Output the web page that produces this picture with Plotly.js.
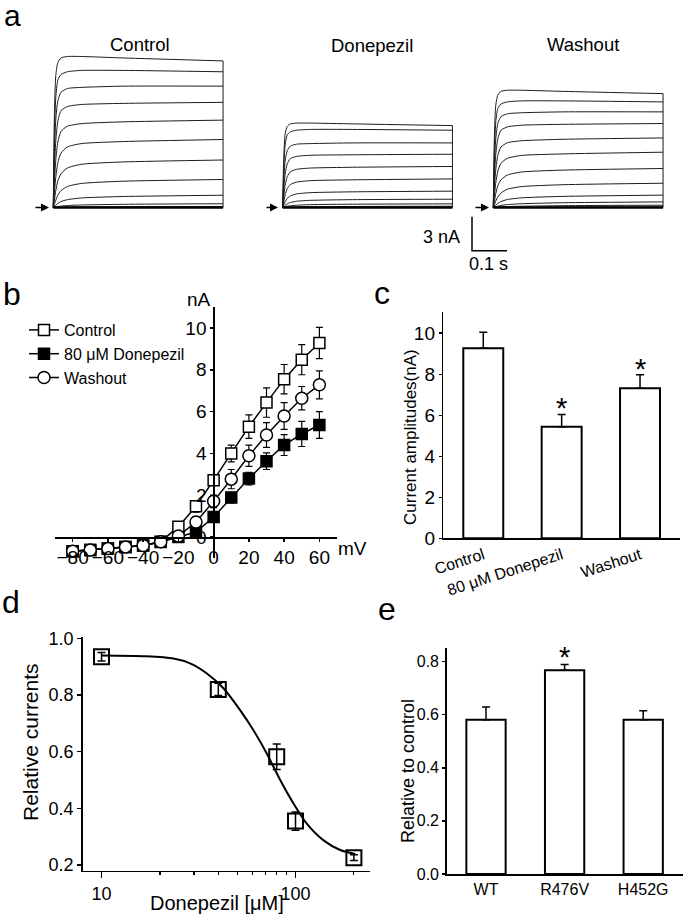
<!DOCTYPE html>
<html>
<head>
<meta charset="utf-8">
<script src="https://cdn.plot.ly/plotly-3.0.1.min.js"></script>
<style>html,body{margin:0;padding:0;background:#fff;}#chart{width:685px;height:917px;}</style>
</head>
<body>
<div id="chart"></div>
<script>
// ---------- Panel a: current traces (time in s, current in nA) ----------
const traceTime = [0, 0.003, 0.007, 0.013, 0.022, 0.04, 0.08, 0.2, 0.485];
const controlSweeps = [
  [0, 7.92, 11.62, 12.8, 13.2, 13.33, 13.33, 13.2, 12.94],
  [0, 6.05, 9.68, 11.25, 11.74, 11.98, 12.1, 12.1, 11.98],
  [0, 4.5, 7.71, 9.42, 10.17, 10.5, 10.6, 10.71, 10.71],
  [0, 3.16, 5.85, 7.61, 8.54, 8.91, 9.09, 9.19, 9.28],
  [0, 2.08, 4.16, 5.78, 6.71, 7.17, 7.4, 7.56, 7.71],
  [0, 1.2, 2.64, 3.96, 4.8, 5.34, 5.64, 5.82, 6.0],
  [0, 0.63, 1.47, 2.35, 2.97, 3.48, 3.81, 4.02, 4.19],
  [0, 0.25, 0.64, 1.09, 1.48, 1.85, 2.12, 2.32, 2.47],
  [0, 0.08, 0.19, 0.36, 0.52, 0.69, 0.84, 0.97, 1.08],
  [0, 0.02, 0.04, 0.08, 0.12, 0.17, 0.22, 0.28, 0.33],
  [0, 0, 0.01, 0.01, 0.02, 0.04, 0.05, 0.07, 0.09]
];
const donepezilSweeps = [
  [0, 4.43, 6.49, 7.16, 7.38, 7.45, 7.45, 7.38, 7.23],
  [0, 3.45, 5.51, 6.41, 6.68, 6.82, 6.89, 6.89, 6.82],
  [0, 2.39, 4.1, 5.02, 5.42, 5.59, 5.64, 5.7, 5.7],
  [0, 1.6, 2.96, 3.85, 4.32, 4.51, 4.61, 4.65, 4.7],
  [0, 0.98, 1.95, 2.72, 3.15, 3.37, 3.48, 3.55, 3.62],
  [0, 0.5, 1.11, 1.66, 2.02, 2.24, 2.37, 2.44, 2.52],
  [0, 0.22, 0.5, 0.81, 1.02, 1.2, 1.31, 1.38, 1.44],
  [0, 0.07, 0.19, 0.32, 0.44, 0.55, 0.63, 0.69, 0.73],
  [0, 0.02, 0.06, 0.11, 0.15, 0.2, 0.25, 0.29, 0.32],
  [0, 0.01, 0.01, 0.03, 0.04, 0.06, 0.07, 0.09, 0.11]
];
const washoutSweeps = [
  [0, 6.15, 9.02, 9.94, 10.25, 10.35, 10.35, 10.25, 10.05],
  [0, 4.71, 7.53, 8.75, 9.13, 9.32, 9.41, 9.41, 9.32],
  [0, 3.54, 6.08, 7.43, 8.02, 8.27, 8.36, 8.44, 8.44],
  [0, 2.52, 4.67, 6.08, 6.82, 7.11, 7.26, 7.34, 7.41],
  [0, 1.66, 3.32, 4.61, 5.34, 5.71, 5.89, 6.02, 6.14],
  [0, 0.98, 2.15, 3.22, 3.9, 4.34, 4.59, 4.73, 4.88],
  [0, 0.52, 1.2, 1.93, 2.44, 2.86, 3.13, 3.3, 3.44],
  [0, 0.21, 0.56, 0.94, 1.28, 1.61, 1.84, 2.01, 2.14],
  [0, 0.08, 0.2, 0.36, 0.52, 0.7, 0.85, 0.98, 1.09],
  [0, 0.02, 0.06, 0.11, 0.18, 0.25, 0.33, 0.42, 0.49],
  [0, 0.01, 0.02, 0.03, 0.05, 0.08, 0.11, 0.16, 0.2],
  [0, 0, 0, 0.01, 0.01, 0.02, 0.02, 0.04, 0.05]
];
const traceTitles = ['Control', 'Donepezil', 'Washout'];
const scaleBarTime = [0, 0, 0.1];
const scaleBarCurrent = [3, 0, 0];
const scaleBarLabels = ['3 nA', '0.1 s'];

// ---------- Panel b: I-V curves ----------
const ivVoltage = [-80, -70, -60, -50, -40, -30, -20, -10, 0, 10, 20, 30, 40, 50, 60];
const ivControl = [-0.68, -0.62, -0.55, -0.47, -0.4, -0.22, 0.5, 1.47, 2.72, 4.0, 5.28, 6.43, 7.55, 8.48, 9.28];
const ivControlErr = [0.12, 0.12, 0.12, 0.12, 0.12, 0.15, 0.2, 0.28, 0.24, 0.4, 0.56, 0.7, 0.7, 0.72, 0.75];
const ivDonepezil = [-0.68, -0.62, -0.55, -0.47, -0.4, -0.24, 0.0, 0.24, 0.96, 1.89, 2.8, 3.63, 4.4, 4.93, 5.36];
const ivDonepezilErr = [0.1, 0.1, 0.1, 0.1, 0.1, 0.12, 0.15, 0.15, 0.2, 0.25, 0.3, 0.4, 0.5, 0.6, 0.64];
const ivWashout = [-0.68, -0.62, -0.55, -0.47, -0.4, -0.22, 0.05, 0.72, 1.71, 2.77, 3.89, 4.88, 5.79, 6.64, 7.28];
const ivWashoutErr = [0.12, 0.12, 0.12, 0.12, 0.12, 0.15, 0.2, 0.25, 0.3, 0.46, 0.51, 0.59, 0.64, 0.56, 0.67];
const ivSeriesNames = ['Control', '80 \u03bcM Donepezil', 'Washout'];
const ivXTicks = [-80, -60, -40, -20, 0, 20, 40, 60];
const ivYTicks = [0, 2, 4, 6, 8, 10];

// ---------- Panel c: current amplitudes ----------
const cCategories = ['Control', '80 \u03bcM Donepezil', 'Washout'];
const cValues = [9.27, 5.44, 7.32];
const cErr = [0.78, 0.6, 0.65];
const cSig = ['', '*', '*'];
const cYTicks = [0, 2, 4, 6, 8, 10];

// ---------- Panel d: concentration-response ----------
const dConc = [10, 40, 80, 100, 200];
const dRel = [0.935, 0.82, 0.582, 0.355, 0.226];
const dErr = [0.015, 0.022, 0.045, 0.032, 0.01];
const fitConc = [10, 17, 23.5, 28.6, 34.8, 42.5, 51.8, 60.7, 71.1, 83.4, 97.5, 114, 139, 170, 203];
const fitRel = [0.94, 0.937, 0.929, 0.912, 0.877, 0.824, 0.747, 0.676, 0.594, 0.5, 0.418, 0.347, 0.288, 0.253, 0.239];
const dXTicks = [10, 100];
const dMinorTicks = [20, 30, 40, 50, 60, 70, 80, 90, 200];
const dYTicks = [0.2, 0.4, 0.6, 0.8, 1.0];

// ---------- Panel e: mutants ----------
const eCategories = ['WT', 'R476V', 'H452G'];
const eValues = [0.581, 0.767, 0.581];
const eErr = [0.048, 0.022, 0.034];
const eSig = ['', '*', ''];
const eYTicks = [0, 0.2, 0.4, 0.6, 0.8];

const panelLetters = ['a', 'b', 'c', 'd', 'e'];

// ---------- helpers ----------
const W = 685, H = 917;
const px = x => x / W;
const py = y => 1 - y / H;
const FONT = 'Liberation Sans, Arial, Helvetica, sans-serif';
const BLACK = '#000';

const traces = [];
const annotations = [];

// Panel a
const sweepSets = [controlSweeps, donepezilSweeps, washoutSweeps];
const sweepAxes = ['x', 'x2', 'x3'];
sweepSets.forEach((set, k) => {
  set.forEach(sw => {
    traces.push({x: traceTime, y: sw, xaxis: sweepAxes[k], yaxis: 'y', mode: 'lines',
      line: {color: '#1c1c1c', width: 1, shape: 'spline', smoothing: 0.6},
      showlegend: false, hoverinfo: 'skip'});
  });
  const last = traceTime.length - 1;
  traces.push({x: [traceTime[last], traceTime[last]], y: [set[0][last], 0], xaxis: sweepAxes[k], yaxis: 'y',
    mode: 'lines', line: {color: '#1c1c1c', width: 1}, showlegend: false, hoverinfo: 'skip'});
  traces.push({x: [traceTime[0], traceTime[last]], y: [0, 0], xaxis: sweepAxes[k], yaxis: 'y',
    mode: 'lines', line: {color: BLACK, width: 2.5}, showlegend: false, hoverinfo: 'skip'});
});
traces.push({x: scaleBarTime, y: scaleBarCurrent, xaxis: 'x4', yaxis: 'y4', mode: 'lines',
  line: {color: BLACK, width: 1.5}, showlegend: false, hoverinfo: 'skip'});

// Panel b
const ivErrStyle = arr => ({type: 'data', array: arr, visible: true, color: BLACK, thickness: 1.2, width: 3.5});
traces.push({x: ivVoltage, y: ivDonepezil, xaxis: 'x5', yaxis: 'y5', mode: 'lines+markers', name: ivSeriesNames[1],
  legendrank: 2, line: {color: BLACK, width: 1.5},
  marker: {symbol: 'square', size: 11, color: BLACK, line: {color: BLACK, width: 1.5}},
  error_y: ivErrStyle(ivDonepezilErr)});
traces.push({x: ivVoltage, y: ivControl, xaxis: 'x5', yaxis: 'y5', mode: 'lines+markers', name: ivSeriesNames[0],
  legendrank: 1, line: {color: BLACK, width: 1.5},
  marker: {symbol: 'square', size: 11, color: 'white', line: {color: BLACK, width: 1.5}},
  error_y: ivErrStyle(ivControlErr)});
traces.push({x: ivVoltage, y: ivWashout, xaxis: 'x5', yaxis: 'y5', mode: 'lines+markers', name: ivSeriesNames[2],
  legendrank: 3, line: {color: BLACK, width: 1.5},
  marker: {symbol: 'circle', size: 12, color: 'white', line: {color: BLACK, width: 1.5}},
  error_y: ivErrStyle(ivWashoutErr)});

// Panel c
traces.push({type: 'bar', x: cCategories, y: cValues, xaxis: 'x6', yaxis: 'y6', width: 0.51,
  marker: {color: 'white', line: {color: BLACK, width: 2}}, showlegend: false, hoverinfo: 'skip',
  error_y: {type: 'data', symmetric: false, array: cErr, arrayminus: cErr.map(() => 0), color: BLACK, thickness: 1.5, width: 4}});
cSig.forEach((s, i) => { if (s) annotations.push({xref: 'x6', yref: 'y6', x: cCategories[i], y: cValues[i] + cErr[i],
  text: s, showarrow: false, yanchor: 'middle', yshift: 6, font: {size: 29, color: BLACK}}); });

// Panel d
traces.push({x: fitConc, y: fitRel, xaxis: 'x7', yaxis: 'y7', mode: 'lines',
  line: {color: BLACK, width: 2, shape: 'spline', smoothing: 0.8}, showlegend: false, hoverinfo: 'skip'});
traces.push({x: dConc, y: dRel, xaxis: 'x7', yaxis: 'y7', mode: 'markers',
  marker: {symbol: 'square-open', size: 15, color: BLACK, line: {color: BLACK, width: 2}},
  error_y: {type: 'data', array: dErr, color: BLACK, thickness: 1.5, width: 4}, showlegend: false, hoverinfo: 'skip'});

// Panel e
traces.push({type: 'bar', x: eCategories, y: eValues, xaxis: 'x8', yaxis: 'y8', width: 0.5,
  marker: {color: 'white', line: {color: BLACK, width: 2}}, showlegend: false, hoverinfo: 'skip',
  error_y: {type: 'data', symmetric: false, array: eErr, arrayminus: eErr.map(() => 0), color: BLACK, thickness: 1.5, width: 4}});
eSig.forEach((s, i) => { if (s) annotations.push({xref: 'x8', yref: 'y8', x: eCategories[i], y: eValues[i] + eErr[i],
  text: s, showarrow: false, yanchor: 'middle', yshift: 8, font: {size: 29, color: BLACK}}); });

// ---------- text annotations ----------
const paperText = (text, x, y, size, opts = {}) => Object.assign({xref: 'paper', yref: 'paper', x: px(x), y: py(y),
  text: text, showarrow: false, xanchor: 'center', yanchor: 'middle', font: {size: size, color: BLACK, family: FONT}}, opts);

annotations.push(paperText(panelLetters[0], 12, 15, 30));
annotations.push(paperText(panelLetters[1], 12, 294, 32));
annotations.push(paperText(panelLetters[2], 382, 293, 32));
annotations.push(paperText(panelLetters[3], 11, 602, 32));
annotations.push(paperText(panelLetters[4], 387, 609, 32));

annotations.push(paperText(traceTitles[0], 140, 44, 18.5));
annotations.push(paperText(traceTitles[1], 372, 45, 18.5));
annotations.push(paperText(traceTitles[2], 583, 44, 18.5));
annotations.push(paperText(scaleBarLabels[0], 462, 237, 18, {xanchor: 'right'}));
annotations.push(paperText(scaleBarLabels[1], 488, 264, 18));

// arrows marking zero current
[[49, 34], [278, 265], [489, 474]].forEach(([head, tail]) => {
  annotations.push({xref: 'paper', yref: 'paper', x: px(head), y: py(207.5), ax: tail - head, ay: 0,
    text: '', showarrow: true, arrowhead: 2, arrowsize: 1, arrowwidth: 1.6, arrowcolor: BLACK, standoff: 0});
});

annotations.push(paperText('nA', 213, 299, 19, {xanchor: 'right'}));
annotations.push(paperText('mV', 336, 548, 19, {xanchor: 'left'}));
annotations.push(paperText('Current amplitudes(nA)', 410, 437, 17, {textangle: -90}));
annotations.push(paperText('Relative currents', 30, 742, 21, {textangle: -90}));
annotations.push(paperText('Donepezil [\u03bcM]', 148, 903, 20, {xanchor: 'left'}));
annotations.push(paperText('Relative to control', 408, 771, 18, {textangle: -90}));

// ---------- axes ----------
const hidden = {visible: false, showgrid: false, zeroline: false, fixedrange: true};
const axStyle = {showline: true, linecolor: BLACK, linewidth: 1.5, showgrid: false, zeroline: false,
  ticks: 'outside', ticklen: 4, tickwidth: 1.5, tickcolor: BLACK, fixedrange: true};

// a: 350 px per s, 11.33 px per nA, baseline at y=207.5
const aY = {domain: [py(218.8), py(48.9)], range: [-1, 14]};
const layout = {
  width: W, height: H, margin: {l: 0, r: 0, t: 0, b: 0},
  paper_bgcolor: 'white', plot_bgcolor: 'rgba(0,0,0,0)',
  font: {family: FONT, color: BLACK},
  xaxis:  Object.assign({}, hidden, {domain: [px(51.55), px(224.8)], range: [-0.005, 0.49], anchor: 'y'}),
  xaxis2: Object.assign({}, hidden, {domain: [px(280.95), px(454.2)], range: [-0.005, 0.49], anchor: 'y'}),
  xaxis3: Object.assign({}, hidden, {domain: [px(491.55), px(664.8)], range: [-0.005, 0.49], anchor: 'y'}),
  yaxis:  Object.assign({}, hidden, aY, {anchor: 'x'}),
  xaxis4: Object.assign({}, hidden, {domain: [px(468.5), px(510.5)], range: [-0.01, 0.11], anchor: 'y4'}),
  yaxis4: Object.assign({}, hidden, {domain: [py(254.1), py(213.3)], range: [-0.3, 3.3], anchor: 'x4'}),

  xaxis5: Object.assign({}, axStyle, {domain: [px(55), px(337)], range: [-90, 70], anchor: 'free', position: py(537),
    tickvals: ivXTicks, tickfont: {size: 19}, ticklen: 3}),
  yaxis5: Object.assign({}, axStyle, {domain: [py(558), py(307)], range: [-1, 11], anchor: 'free', position: px(213.3),
    tickvals: ivYTicks, tickfont: {size: 19}, ticklen: 3}),

  xaxis6: Object.assign({}, axStyle, {domain: [px(443.3), px(680)], type: 'category', range: [-0.51, 2.51], anchor: 'y6',
    ticks: '', tickangle: -18, tickfont: {size: 16}}),
  yaxis6: Object.assign({}, axStyle, {domain: [py(538.3), py(311.7)], range: [0, 11.05], anchor: 'x6',
    tickvals: cYTicks, tickfont: {size: 19}, ticklen: 3}),

  xaxis7: Object.assign({}, axStyle, {domain: [px(82.7), px(370)], type: 'log', range: [0.903, 2.384], anchor: 'y7',
    tickvals: dXTicks, ticktext: dXTicks.map(String), ticklen: 6, tickfont: {size: 18},
    minor: {tickvals: dMinorTicks, ticks: 'outside', ticklen: 3, tickwidth: 1.2, tickcolor: BLACK}}),
  yaxis7: Object.assign({}, axStyle, {domain: [py(870.7), py(636.7)], range: [0.18, 1.006], anchor: 'x7',
    tickvals: dYTicks, tickformat: '.1f', tickfont: {size: 18}}),

  xaxis8: Object.assign({}, axStyle, {domain: [px(446.7), px(683.3)], type: 'category', range: [-0.5, 2.51], anchor: 'y8',
    ticks: '', tickfont: {size: 16}}),
  yaxis8: Object.assign({}, axStyle, {domain: [py(874), py(648.3)], range: [0, 0.85], anchor: 'x8',
    tickvals: eYTicks, tickformat: '.1f', tickfont: {size: 16}, ticklen: 3}),

  showlegend: true,
  legend: {x: px(24), y: py(313), xanchor: 'left', yanchor: 'top', font: {size: 16, color: BLACK},
    bgcolor: 'rgba(0,0,0,0)', borderwidth: 0, tracegroupgap: 0, itemsizing: 'trace', traceorder: 'normal'},
  annotations: annotations
};

Plotly.newPlot('chart', traces, layout, {staticPlot: true, displayModeBar: false});
</script>
</body>
</html>
